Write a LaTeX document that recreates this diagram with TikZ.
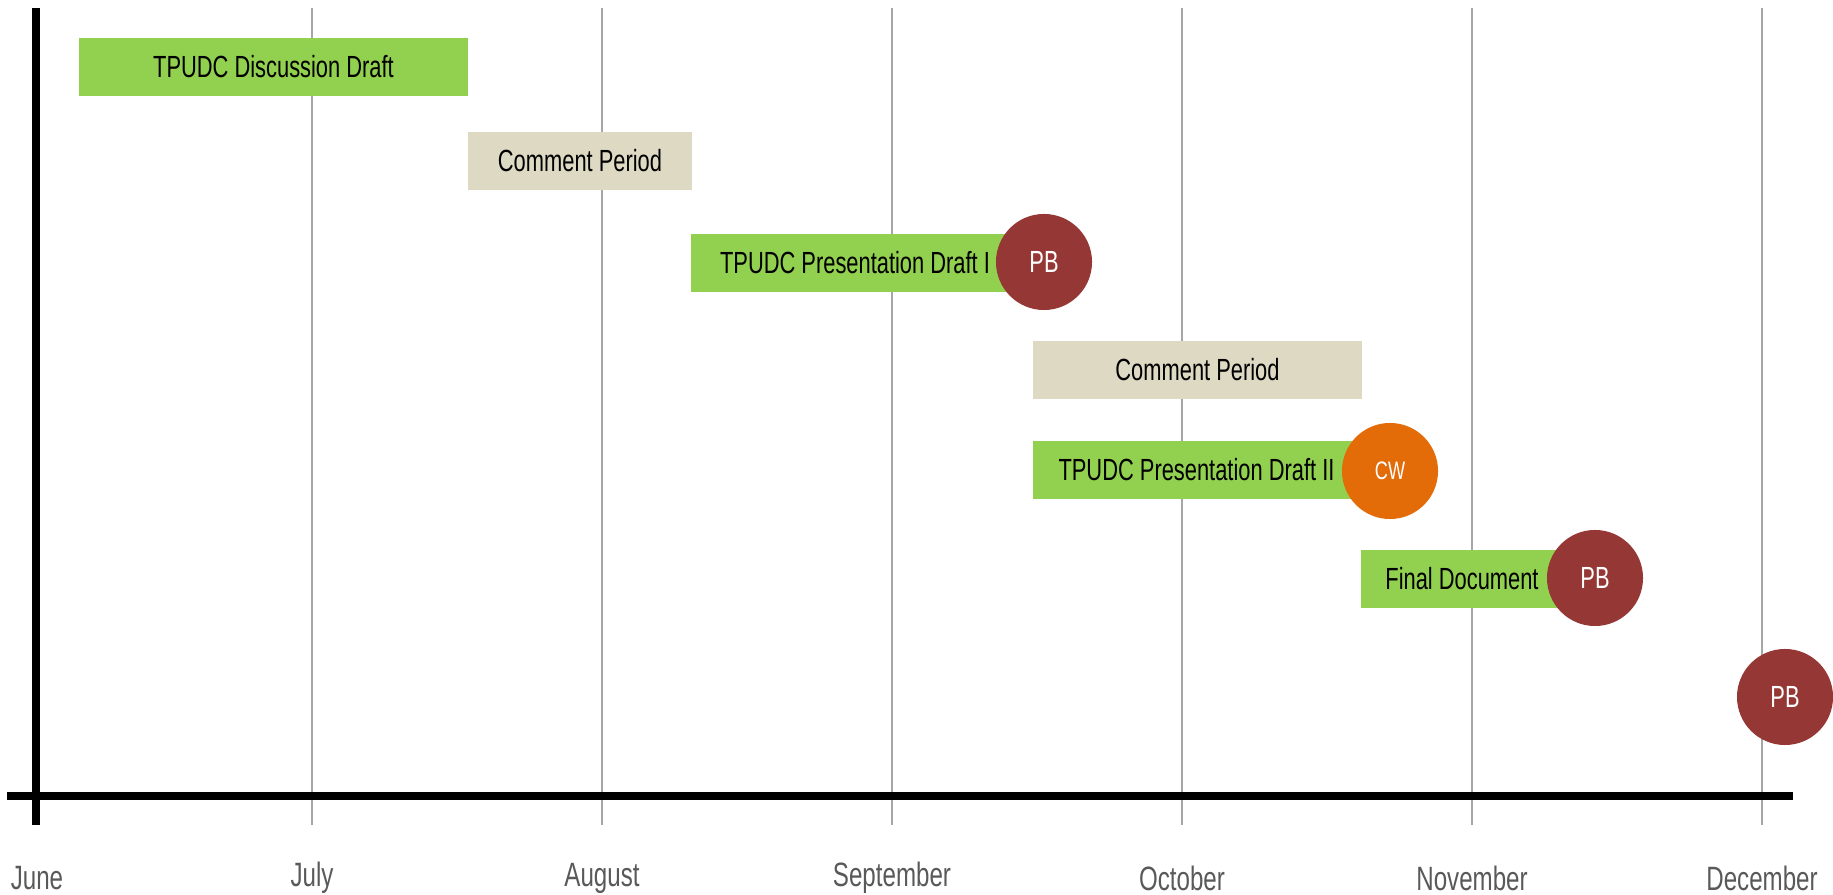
\documentclass[tikz,border=0pt]{standalone}
\usepackage{fontspec}
\setmainfont{Liberation Sans}[FakeStretch=0.715]
\definecolor{verde}{HTML}{92D050}
\definecolor{bege}{HTML}{DDD9C3}
\definecolor{vinho}{HTML}{953735}
\definecolor{laranja}{HTML}{E36C09}
\definecolor{grade}{HTML}{A6A6A6}
\definecolor{rotulo}{HTML}{595959}
\begin{document}
\begin{tikzpicture}[x=0.01cm,y=-0.01cm,
   barra/.style={rectangle,inner sep=0pt,minimum height=0.57cm,
      font=\fontsize{8.7}{10}\selectfont},
   marco/.style={circle,inner sep=0pt,minimum size=0.96cm,text=white,
      font=\fontsize{8.7}{10}\selectfont}]
   \useasboundingbox (0,0) rectangle (1833,895);

   \foreach \x/\mes in {312/July,602/August,892/September,
      1182/October,1472/November,1762/December}{
      \draw[color=grade,line width=0.45pt] (\x,8) -- (\x,825);
      \node[text=rotulo,font=\fontsize{9.6}{11}\selectfont] (m\mes) at (\x,878) {\mes};
   }
   \node[text=rotulo,font=\fontsize{9.6}{11}\selectfont] (mJune) at (37,878) {June};

   \draw[line width=2pt] (36,8) -- (36,825);
   \draw[line width=2pt] (7,796) -- (1793,796);

   \node[barra,fill=verde,minimum width=3.89cm] (discussao) at (273.5,67)
   {TPUDC Discussion Draft};
   \node[barra,fill=bege,minimum width=2.24cm] (comentario1) at (580,161)
   {Comment Period};
   \node[barra,fill=verde,minimum width=3.28cm] (apresentacao1) at (855,263)
   {TPUDC Presentation Draft I};
   \node[barra,fill=bege,minimum width=3.29cm] (comentario2) at (1197.5,370)
   {Comment Period};
   \node[barra,fill=verde,minimum width=3.27cm] (apresentacao2) at (1196.5,470)
   {TPUDC Presentation Draft II};
   \node[barra,fill=verde,minimum width=2.02cm] (final) at (1462,579)
   {Final Document};

   \node[marco,fill=vinho] (pb1) at (1044,262) {PB};
   \node[marco,fill=laranja,font=\fontsize{7.2}{8}\selectfont] (cw) at (1390,471) {CW};
   \node[marco,fill=vinho] (pb2) at (1595,578) {PB};
   \node[marco,fill=vinho] (pb3) at (1785,697) {PB};

\end{tikzpicture}
\end{document}
